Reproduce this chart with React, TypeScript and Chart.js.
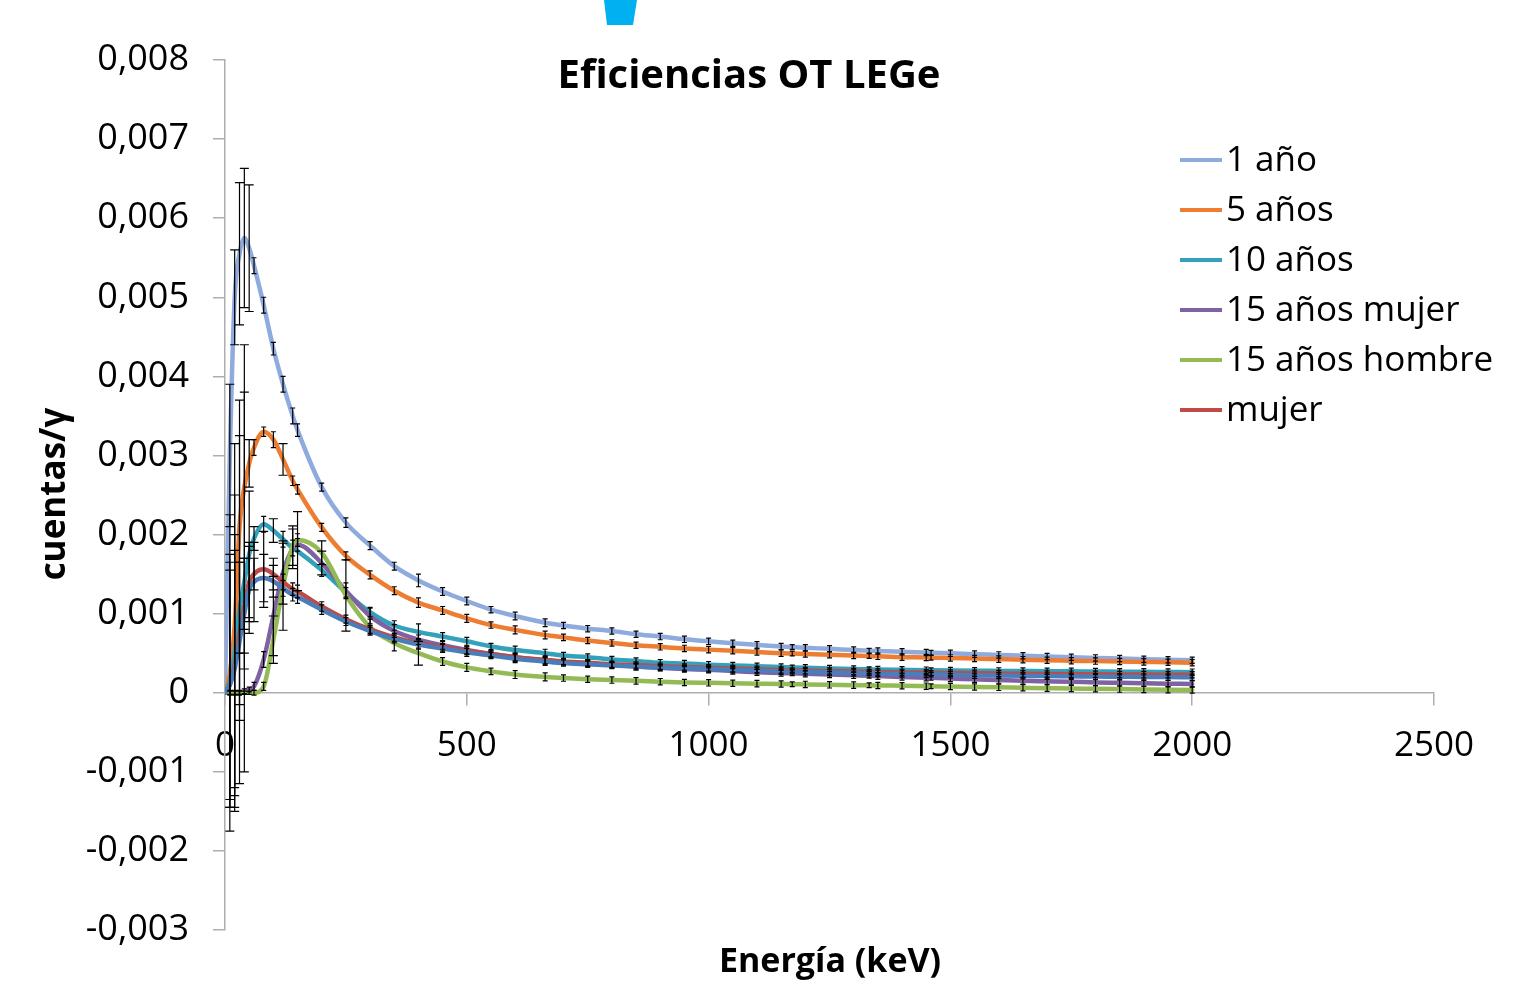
import React, { useEffect, useRef } from 'react';
import { Chart, registerables } from 'chart.js';

Chart.register(...registerables);

// Energies (keV)
const energias = [
  0, 10, 20, 30, 40, 50, 60,
  80, 100, 120, 140, 150,
  200, 250, 300, 350, 400, 450, 500,
  550, 600, 662, 700, 750, 800, 850, 900, 950, 1000,
  1050, 1100, 1150, 1173, 1200, 1250, 1300, 1332, 1350, 1400,
  1450, 1460, 1500,
  1550, 1600, 1650, 1700, 1750, 1800, 1850, 1900, 1950, 2000,
];

// Efficiencies (cuentas/γ)
const anio1 = [
  0, 0.003, 0.005, 0.00555, 0.00575, 0.00562, 0.0054,
  0.0049, 0.00435, 0.0039, 0.0035, 0.00332,
  0.0026, 0.00215, 0.00186, 0.0016, 0.00142, 0.00128, 0.00116,
  0.00105, 0.00097, 0.000885, 0.00085, 0.00081, 0.00078, 0.00074, 0.00071, 0.000675, 0.00065,
  0.000625, 0.000605, 0.000585, 0.000577, 0.000568, 0.000555, 0.00054, 0.000532, 0.000528, 0.000518,
  0.000508, 0.000506, 0.000498,
  0.000488, 0.000478, 0.000468, 0.000458, 0.000449, 0.00044, 0.000432, 0.000424, 0.000417, 0.00041,
];
const anios5 = [
  0, 0.00025, 0.00085, 0.0021, 0.0026, 0.0029, 0.0031,
  0.0033, 0.0032, 0.00295, 0.00268, 0.00257,
  0.00209, 0.00173, 0.00149, 0.00129, 0.00114, 0.00104, 0.00094,
  0.000855, 0.000795, 0.00073, 0.0007, 0.00066, 0.00063, 0.0006, 0.00058, 0.00056, 0.000545,
  0.00053, 0.000515, 0.0005, 0.000495, 0.00049, 0.00048, 0.00047, 0.000465, 0.00046, 0.00045,
  0.000445, 0.000443, 0.00044,
  0.000432, 0.000425, 0.000418, 0.00041, 0.000405, 0.0004, 0.000395, 0.00039, 0.000385, 0.00038,
];
const anios10 = [
  0, 0.00015, 0.0005, 0.00105, 0.0014, 0.00175, 0.00195,
  0.00213, 0.00205, 0.00194, 0.00183, 0.00179,
  0.00155, 0.00127, 0.00102, 0.00085, 0.00077, 0.00071, 0.00065,
  0.000585, 0.00054, 0.0005, 0.00047, 0.00045, 0.00042, 0.0004, 0.00038, 0.00037, 0.000355,
  0.000345, 0.000335, 0.000325, 0.00032, 0.000315, 0.000307, 0.0003, 0.000296, 0.000293, 0.000289,
  0.000285, 0.000284, 0.000281,
  0.000278, 0.000276, 0.000274, 0.000272, 0.00027, 0.000268, 0.000266, 0.000264, 0.000262, 0.00026,
];
const anios15Mujer = [
  0, 0, 0, 0, 0.00002, 0.00004, 0.00008,
  0.00042, 0.00097, 0.00152, 0.00182, 0.00187,
  0.00164, 0.00129, 0.00097, 0.00078, 0.00067, 0.0006, 0.00054,
  0.00049, 0.00045, 0.00041, 0.00039, 0.00037, 0.00035, 0.00033, 0.000315, 0.0003, 0.00029,
  0.000275, 0.00026, 0.00025, 0.000245, 0.00024, 0.00023, 0.00022, 0.000215, 0.00021, 0.0002,
  0.00019, 0.000188, 0.00018,
  0.00017, 0.00016, 0.00015, 0.000145, 0.00014, 0.00013, 0.000125, 0.00012, 0.000115, 0.00011,
];
const anios15Hombre = [
  0, 0, 0, 0, 0, 0, 0,
  0.00008, 0.00067, 0.00134, 0.00186, 0.00193,
  0.00177, 0.00123, 0.00083, 0.00063, 0.0005, 0.000395, 0.00032,
  0.00027, 0.00023, 0.0002, 0.000185, 0.00017, 0.00016, 0.00015, 0.00014, 0.00013, 0.000125,
  0.00012, 0.000115, 0.00011, 0.000108, 0.000105, 0.0001, 0.000096, 0.000094, 0.000092, 0.000088,
  0.000083, 0.000082, 0.000078,
  0.000073, 0.000068, 0.000063, 0.000058, 0.000053, 0.00005, 0.000046, 0.000042, 0.000038, 0.000035,
];
const mujer = [
  0, 0.0001, 0.00035, 0.00075, 0.0011, 0.0014, 0.0015,
  0.00156, 0.0015, 0.0014, 0.00131, 0.00128,
  0.00109, 0.00093, 0.0008, 0.0007, 0.000625, 0.000575, 0.00053,
  0.00049, 0.00045, 0.000415, 0.000395, 0.00038, 0.00036, 0.00035, 0.000335, 0.000325, 0.000315,
  0.000305, 0.000296, 0.000288, 0.000284, 0.00028, 0.000274, 0.000268, 0.000264, 0.000262, 0.000257,
  0.000252, 0.000251, 0.000248,
  0.000245, 0.000242, 0.000239, 0.000237, 0.000235, 0.000233, 0.000231, 0.000229, 0.000228, 0.000227,
];
const hombre = [
  0, 0.0001, 0.0003, 0.00065, 0.001, 0.0013, 0.0014,
  0.00145, 0.00141, 0.00132, 0.00124, 0.00121,
  0.00105, 0.0009, 0.00078, 0.00068, 0.00061, 0.00056, 0.00051,
  0.00047, 0.00043, 0.000395, 0.000375, 0.00036, 0.000345, 0.00033, 0.00032, 0.00031, 0.0003,
  0.00029, 0.00028, 0.000272, 0.000268, 0.000264, 0.000257, 0.00025, 0.000246, 0.000244, 0.000238,
  0.000232, 0.000231, 0.000227,
  0.000222, 0.000218, 0.000214, 0.00021, 0.000207, 0.000204, 0.000202, 0.0002, 0.000198, 0.000196,
];

// Error bar half-widths (cuentas/γ)
const errAnio1 = [
  0, 0.0009, 0.0006, 0.0009, 0.00088, 0.0008, 0.0001,
  0.0001, 0.00008, 0.0001, 0.0001, 0.00008,
  0.00005, 0.00006, 0.00005, 0.00005, 0.00008, 0.00005, 0.00005,
  0.00004, 0.00005, 0.00005, 0.00004, 0.00004, 0.00004, 0.00004, 0.00004, 0.00004, 0.00004,
  0.00004, 0.00004, 0.00004, 0.00003, 0.00004, 0.00004, 0.00004, 0.00003, 0.00004, 0.00004,
  0.00004, 0.00003, 0.00004,
  0.00004, 0.00004, 0.00004, 0.00004, 0.00004, 0.00004, 0.00004, 0.00004, 0.00004, 0.00004,
];
const errAnios5 = [
  0, 0.002, 0.0023, 0.0016, 0.0018, 0.0003, 0.0001,
  0.00006, 0.0001, 0.0002, 0.00006, 0.00006,
  0.00005, 0.00005, 0.00005, 0.00005, 0.00006, 0.00005, 0.00005,
  0.00004, 0.00005, 0.00005, 0.00004, 0.00004, 0.00004, 0.00004, 0.00004, 0.00004, 0.00004,
  0.00004, 0.00004, 0.00004, 0.00003, 0.00004, 0.00004, 0.00004, 0.00003, 0.00004, 0.00004,
  0.00004, 0.00003, 0.00004,
  0.00004, 0.00004, 0.00004, 0.00004, 0.00004, 0.00004, 0.00004, 0.00004, 0.00004, 0.00004,
];
const errAnios10 = [
  0, 0.0016, 0.002, 0.0022, 0.0024, 0.0008, 0.00015,
  0.0001, 0.00015, 0.0001, 0.0001, 0.0005,
  0.00008, 0.00006, 0.00006, 0.00006, 0.0001, 0.00005, 0.00005,
  0.00004, 0.00005, 0.00005, 0.00004, 0.00004, 0.00004, 0.00004, 0.00004, 0.00004, 0.00004,
  0.00004, 0.00004, 0.00004, 0.00003, 0.00004, 0.00004, 0.00004, 0.00003, 0.00004, 0.00004,
  0.00004, 0.00003, 0.00004,
  0.00004, 0.00004, 0.00004, 0.00004, 0.00004, 0.00004, 0.00004, 0.00004, 0.00004, 0.00004,
];
const errAnios15Mujer = [
  0, 0.00003, 0.00003, 0.00003, 0.00003, 0.00003, 0.00005,
  0.0001, 0.0005, 0.0004, 0.00025, 0.00008,
  0.00015, 0.0001, 0.0001, 0.00008, 0.00006, 0.00005, 0.00005,
  0.00004, 0.00005, 0.00005, 0.00004, 0.00004, 0.00004, 0.00004, 0.00004, 0.00004, 0.00004,
  0.00004, 0.00004, 0.00004, 0.00003, 0.00004, 0.00004, 0.00004, 0.00003, 0.00004, 0.00004,
  0.00004, 0.00003, 0.00004,
  0.00004, 0.00004, 0.00004, 0.00004, 0.00004, 0.00004, 0.00004, 0.00004, 0.00004, 0.00004,
];
const errAnios15Hombre = [
  0, 0.00002, 0.00002, 0.00002, 0.00002, 0.00002, 0.00003,
  0.00005, 0.0003, 0.00055, 0.00025, 0.00008,
  0.00015, 0.00045, 0.0001, 0.0001, 0.00015, 0.00005, 0.00005,
  0.00004, 0.00005, 0.00005, 0.00004, 0.00004, 0.00004, 0.00004, 0.00004, 0.00004, 0.00004,
  0.00004, 0.00004, 0.00004, 0.00003, 0.00004, 0.00004, 0.00004, 0.00003, 0.00004, 0.00004,
  0.00004, 0.00003, 0.00004,
  0.00004, 0.00004, 0.00004, 0.00004, 0.00004, 0.00004, 0.00004, 0.00004, 0.00004, 0.00004,
];
const errMujer = [
  0, 0.00155, 0.00165, 0.0009, 0.0006, 0.0005, 0.0002,
  0.00048, 0.0002, 0.0001, 0.00008, 0.00008,
  0.00006, 0.00005, 0.00005, 0.00005, 0.00006, 0.00005, 0.00005,
  0.00004, 0.00005, 0.00005, 0.00004, 0.00004, 0.00004, 0.00004, 0.00004, 0.00004, 0.00004,
  0.00004, 0.00004, 0.00004, 0.00003, 0.00004, 0.00004, 0.00004, 0.00003, 0.00004, 0.00004,
  0.00004, 0.00003, 0.00004,
  0.00004, 0.00004, 0.00004, 0.00004, 0.00004, 0.00004, 0.00004, 0.00004, 0.00004, 0.00004,
];
const errHombre = [
  0, 0.00145, 0.0015, 0.001, 0.0007, 0.00055, 0.0005,
  0.0003, 0.0002, 0.0001, 0.00008, 0.00008,
  0.00006, 0.00005, 0.00005, 0.00005, 0.00006, 0.00005, 0.00005,
  0.00004, 0.00005, 0.00005, 0.00004, 0.00004, 0.00004, 0.00004, 0.00004, 0.00004, 0.00004,
  0.00004, 0.00004, 0.00004, 0.00003, 0.00004, 0.00004, 0.00004, 0.00003, 0.00004, 0.00004,
  0.00004, 0.00003, 0.00004,
  0.00004, 0.00004, 0.00004, 0.00004, 0.00004, 0.00004, 0.00004, 0.00004, 0.00004, 0.00004,
];

const SERIES = [
  { label: '1 año', values: anio1, errors: errAnio1, color: '#8FAADC', legend: true },
  { label: '5 años', values: anios5, errors: errAnios5, color: '#ED7D31', legend: true },
  { label: '10 años', values: anios10, errors: errAnios10, color: '#33A1B9', legend: true },
  { label: '15 años mujer', values: anios15Mujer, errors: errAnios15Mujer, color: '#7E62A1', legend: true },
  { label: '15 años hombre', values: anios15Hombre, errors: errAnios15Hombre, color: '#94BA55', legend: true },
  { label: 'mujer', values: mujer, errors: errMujer, color: '#BE4B48', legend: true },
  { label: 'hombre', values: hombre, errors: errHombre, color: '#4A7EBB', legend: false },
];

const TITLE = 'Eficiencias OT LEGe';
const X_TITLE = 'Energía (keV)';
const Y_TITLE = 'cuentas/γ';

const FONT = '"Open Sans", "DejaVu Sans", sans-serif';
const AXIS_COLOR = '#AEAEAE';

const formatY = (v: number) => (Math.abs(v) < 1e-9 ? '0' : v.toFixed(3).replace('.', ','));

const decorPlugin = {
  id: 'decor',
  afterDatasetsDraw(chart: any) {
    const { ctx } = chart;
    const xs = chart.scales.x;
    const ys = chart.scales.y;
    ctx.save();
    ctx.strokeStyle = '#000';
    ctx.lineWidth = 1.2;
    chart.data.datasets.forEach((ds: any, i: number) => {
      const errs = SERIES[i].errors;
      ds.data.forEach((p: any, j: number) => {
        const e = errs[j];
        if (!e) return;
        const px = xs.getPixelForValue(p.x);
        const top = ys.getPixelForValue(p.y + e);
        const bot = ys.getPixelForValue(p.y - e);
        const cap = bot - top > 20 ? 4.5 : 2.5;
        ctx.beginPath();
        ctx.moveTo(px, top);
        ctx.lineTo(px, bot);
        ctx.moveTo(px - cap, top);
        ctx.lineTo(px + cap, top);
        ctx.moveTo(px - cap, bot);
        ctx.lineTo(px + cap, bot);
        ctx.stroke();
      });
    });
    ctx.restore();
  },
  afterDraw(chart: any) {
    const { ctx } = chart;
    ctx.save();
    // decorative cyan shape at top
    ctx.fillStyle = '#00B0F0';
    ctx.beginPath();
    ctx.moveTo(604, 0);
    ctx.lineTo(637, 0);
    ctx.lineTo(633, 25);
    ctx.lineTo(607, 25);
    ctx.closePath();
    ctx.fill();

    ctx.fillStyle = '#000';
    // title
    ctx.font = `bold 40px ${FONT}`;
    ctx.textAlign = 'center';
    ctx.textBaseline = 'alphabetic';
    ctx.fillText(TITLE, 749, 88);
    // x title
    ctx.font = `bold 34px ${FONT}`;
    ctx.textBaseline = 'middle';
    ctx.fillText(X_TITLE, 830, 962);
    // y title
    ctx.save();
    ctx.font = `bold 35px ${FONT}`;
    ctx.translate(55, 494);
    ctx.rotate(-Math.PI / 2);
    ctx.fillText(Y_TITLE, 0, 0);
    ctx.restore();

    // legend
    ctx.font = `35px ${FONT}`;
    ctx.textAlign = 'left';
    ctx.textBaseline = 'middle';
    let row = 0;
    SERIES.forEach((s) => {
      if (!s.legend) return;
      const y = 160 + row * 50;
      ctx.strokeStyle = s.color;
      ctx.lineWidth = 4;
      ctx.beginPath();
      ctx.moveTo(1180, y);
      ctx.lineTo(1222, y);
      ctx.stroke();
      ctx.fillStyle = '#000';
      ctx.fillText(s.label, 1226, y + 1);
      row++;
    });
    ctx.restore();
  },
};

export default function App() {
  const ref = useRef<HTMLCanvasElement>(null);
  useEffect(() => {
    const canvas = ref.current;
    if (!canvas) return;
    const chart = new Chart(canvas, {
      type: 'line',
      data: {
        datasets: SERIES.map((s, i) => ({
          label: s.label,
          data: energias.map((e, j) => ({ x: e, y: s.values[j] })),
          borderColor: s.color,
          backgroundColor: s.color,
          borderWidth: 4.5,
          borderCapStyle: 'round',
          borderJoinStyle: 'round',
          pointRadius: 0,
          pointHoverRadius: 0,
          cubicInterpolationMode: 'monotone',
          fill: false,
          order: SERIES.length - i,
        })),
      },
      options: {
        responsive: false,
        animation: false,
        events: [],
        layout: { padding: { left: 0, top: 60, right: 82, bottom: 59 } },
        plugins: {
          legend: { display: false },
          tooltip: { enabled: false },
          title: { display: false },
        },
        scales: {
          x: {
            type: 'linear',
            min: 0,
            max: 2500,
            position: { y: 0 },
            ticks: {
              stepSize: 500,
              autoSkip: false,
              maxRotation: 0,
              padding: 20,
              color: '#000',
              font: { family: FONT, size: 35 },
              callback: (v: any) => String(v),
            },
            grid: {
              drawOnChartArea: false,
              drawTicks: true,
              tickLength: 12,
              color: AXIS_COLOR,
              lineWidth: 1.5,
            },
            border: { display: true, color: AXIS_COLOR, width: 1.5 },
          },
          y: {
            type: 'linear',
            min: -0.003,
            max: 0.008,
            ticks: {
              stepSize: 0.001,
              padding: 24,
              color: '#000',
              font: { family: FONT, size: 36 },
              callback: (v: any) => formatY(Number(v)),
            },
            grid: {
              drawOnChartArea: false,
              drawTicks: true,
              tickLength: 12,
              color: AXIS_COLOR,
              lineWidth: 1.5,
            },
            border: { display: true, color: AXIS_COLOR, width: 1.5 },
            afterFit: (scale: any) => {
              scale.width = 225;
            },
          },
        },
      } as any,
      plugins: [decorPlugin],
    });
    return () => chart.destroy();
  }, []);
  return (
    <div style={{ position: 'absolute', left: 0, top: 0, width: 1516, height: 989, background: '#fff' }}>
      <canvas ref={ref} width={1516} height={989} style={{ display: 'block', width: 1516, height: 989 }} />
    </div>
  );
}
